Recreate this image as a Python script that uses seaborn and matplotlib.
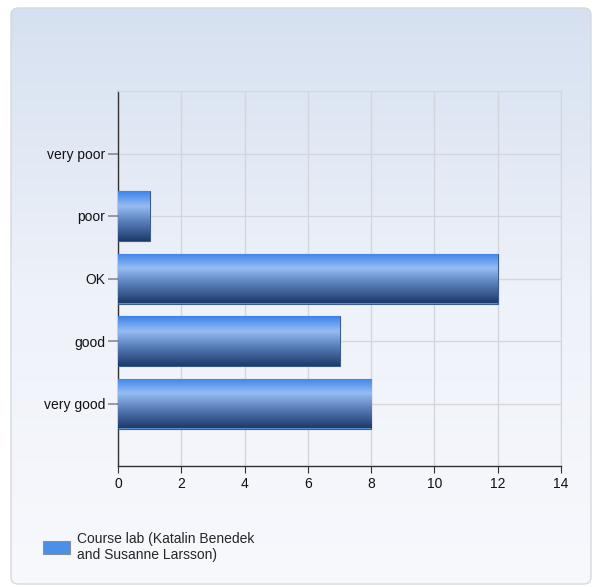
import numpy as np
import pandas as pd
import matplotlib
matplotlib.use("Agg")
import matplotlib.pyplot as plt
import seaborn as sns
from matplotlib.colors import LinearSegmentedColormap
from matplotlib.patches import FancyBboxPatch, Patch

# dane
categories = ["very poor", "poor", "OK", "good", "very good"]
counts = [0, 1, 12, 7, 8]
series_name = "Course lab (Katalin Benedek\nand Susanne Larsson)"
x_ticks = [0, 2, 4, 6, 8, 10, 12, 14]

df = pd.DataFrame({"answer": categories, "count": counts})

sns.set_style("white")
plt.rcParams["font.family"] = ["Arial", "Liberation Sans", "DejaVu Sans"]

fig = plt.figure(figsize=(5.95, 5.87), dpi=100)
fig.patch.set_facecolor("white")

# tlo z gradientem i zaokraglonymi rogami
bg = fig.add_axes([0, 0, 1, 1], zorder=-10)
bg.set_xlim(0, 1)
bg.set_ylim(0, 1)
bg.axis("off")
grad = np.linspace(0, 1, 256).reshape(-1, 1)
bg_cmap = LinearSegmentedColormap.from_list("bg", ["#f8f9fd", "#eef2f9", "#d5e0f0"])
im = bg.imshow(grad, extent=[0, 1, 0, 1], origin="lower", aspect="auto", cmap=bg_cmap)
panel = FancyBboxPatch((11 / 595, 3 / 587), 580 / 595, 576 / 587,
                       boxstyle="round,pad=0,rounding_size=0.012",
                       facecolor="none", edgecolor="#d6d9de", linewidth=1.0,
                       transform=bg.transAxes)
bg.add_patch(panel)
im.set_clip_path(panel)

ax = fig.add_axes([118 / 595, 1 - 466 / 587, 443 / 595, 375 / 587])
ax.set_facecolor("none")

sns.barplot(data=df, x="count", y="answer", order=categories, orient="h",
            color="#4a8fe8", width=0.8, ax=ax, zorder=3)

# gradient na slupkach (efekt walca)
bar_cmap = LinearSegmentedColormap.from_list(
    "bar", [(0.0, "#3d84ea"), (0.3, "#96bcf3"), (0.6, "#5b80bb"), (1.0, "#1d3b6b")])
bar_grad = np.linspace(0, 1, 100).reshape(-1, 1)
for p in ax.patches:
    x0, y0 = p.get_x(), p.get_y()
    w, h = p.get_width(), p.get_height()
    if w <= 0:
        p.set_visible(False)
        continue
    img = ax.imshow(bar_grad, extent=[x0, x0 + w, y0 + h, y0], origin="upper",
                    aspect="auto", cmap=bar_cmap, zorder=4)
    img.set_clip_path(p)
    p.set_edgecolor("#3a5d8f")
    p.set_linewidth(0.8)

ax.set_xlim(0, 14)
ax.set_ylim(len(categories), -1)
ax.set_xticks(x_ticks)
ax.set_xticklabels([str(t) for t in x_ticks])

ax.grid(True, color="#d3d6dd", linewidth=1.0, zorder=0)
ax.set_axisbelow(True)
ax.set_xlabel("")
ax.set_ylabel("")

for s in ["top", "right"]:
    ax.spines[s].set_color("#d3d6dd")
for s in ["left", "bottom"]:
    ax.spines[s].set_color("#333333")
    ax.spines[s].set_linewidth(1.0)

ax.tick_params(axis="x", bottom=True, length=5, color="#333333", labelsize=10,
               pad=3, labelcolor="#111111")
ax.tick_params(axis="y", left=True, length=7, width=1.2, color="#8a8a8a",
               labelsize=10, pad=2, labelcolor="#111111")

# legenda
handle = Patch(facecolor="#4a8fe8", edgecolor="#8a8f99", linewidth=0.8)
leg = fig.legend([handle], [series_name], loc="upper left",
                 bbox_to_anchor=(30 / 595, 1 - 519 / 587), frameon=False,
                 fontsize=10, handlelength=2.0, handleheight=1.0, handletextpad=0.45)
for t in leg.get_texts():
    t.set_linespacing(1.25)

fig.savefig("out.png", dpi=100)
